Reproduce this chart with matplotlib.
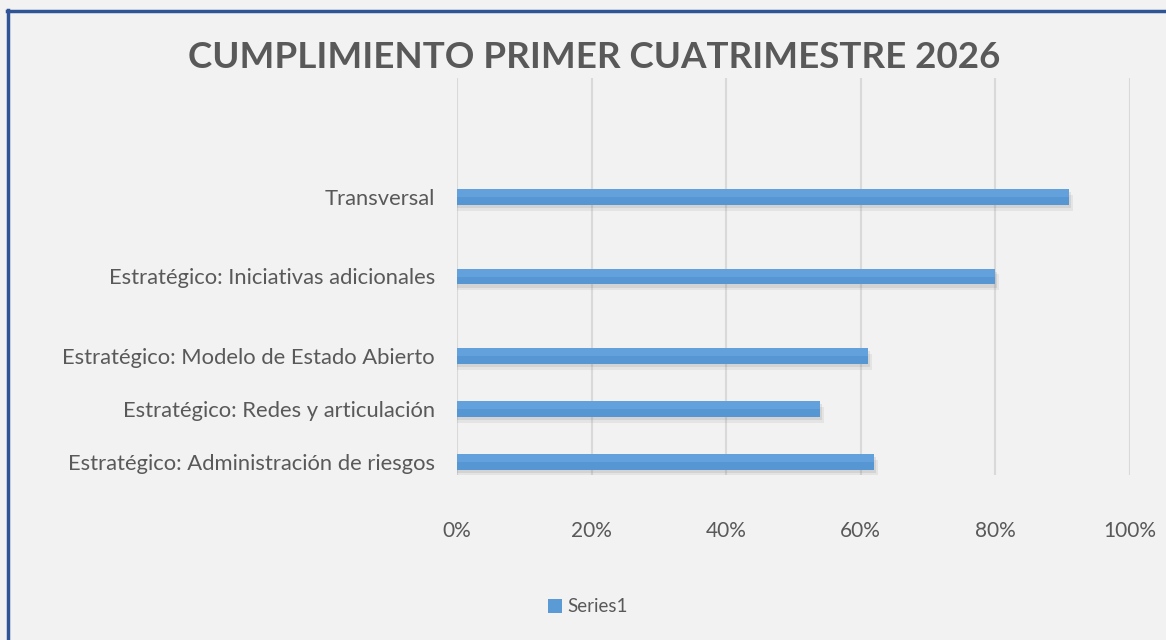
import matplotlib
matplotlib.use("Agg")
import matplotlib.pyplot as plt
from matplotlib.lines import Line2D
from matplotlib.patches import Patch
from matplotlib.ticker import PercentFormatter

categories = [
    "Estratégico: Administración de riesgos",
    "Estratégico: Redes y articulación",
    "Estratégico: Modelo de Estado Abierto",
    "Estratégico: Iniciativas adicionales",
    "Transversal",
]
values = [0.62, 0.54, 0.61, 0.80, 0.91]
xticks = [0, 0.2, 0.4, 0.6, 0.8, 1.0]

# category slots as they sit in the original (uneven spacing)
slots = [0.5, 2.5, 4.5, 7.5, 10.5]

bg = "#F2F2F2"
txt = "#595959"
blue = "#5B9BD5"

plt.rcParams['font.family'] = ['Lato', 'DejaVu Sans']

fig = plt.figure(figsize=(11.66, 6.4), dpi=100, facecolor=bg)
ax = fig.add_axes([457 / 1166, 165 / 640, 673 / 1166, 397 / 640])
ax.set_facecolor(bg)

# soft shadow under the bars
for dx, dy, a in [(0.006, -0.22, 0.10), (0.003, -0.12, 0.14)]:
    ax.barh([s + dy for s in slots], [v + dx for v in values], height=0.6,
            color="#6f6f6f", alpha=a, zorder=2, linewidth=0)
ax.barh(slots, values, height=0.6, color="#5696D3", zorder=3, linewidth=0)
# lighter top half for the gradient look
ax.barh([s + 0.15 for s in slots], values, height=0.3, color="#62A1DC", zorder=4, linewidth=0)

ax.set_xlim(0, 1.0)
ax.set_ylim(0, 15)
ax.set_xticks(xticks)
ax.xaxis.set_major_formatter(PercentFormatter(1.0, decimals=0))
ax.set_yticks(slots)
ax.set_yticklabels(categories)
ax.tick_params(axis='both', length=0, colors=txt)
ax.tick_params(axis='x', pad=33, labelsize=15)
ax.tick_params(axis='y', pad=16, labelsize=15.8)
ax.grid(axis='x', color="#D9D9D9", linewidth=1.5, zorder=0)
for sp in ax.spines.values():
    sp.set_visible(False)

fig.text(594 / 1166, 1 - 58 / 640, "CUMPLIMIENTO PRIMER CUATRIMESTRE 2026",
         ha='center', va='center', fontsize=26.5, fontweight='bold', color=txt)

fig.legend(handles=[Patch(facecolor=blue, edgecolor='none')], labels=["Series1"],
           loc='center', bbox_to_anchor=(588 / 1166, 1 - 607 / 640), frameon=False,
           fontsize=13.5, handlelength=0.75, handleheight=0.75, handletextpad=0.3,
           labelcolor=txt)

# blue frame (left and top edges visible)
fig.add_artist(Line2D([7.5 / 1166, 7.5 / 1166], [0, 1 - 10 / 640], color="#2F5597", linewidth=2.5))
fig.add_artist(Line2D([6.5 / 1166, 1], [1 - 10.5 / 640, 1 - 10.5 / 640], color="#2F5597", linewidth=2.5))

fig.savefig("out.png", dpi=100, facecolor=bg)
